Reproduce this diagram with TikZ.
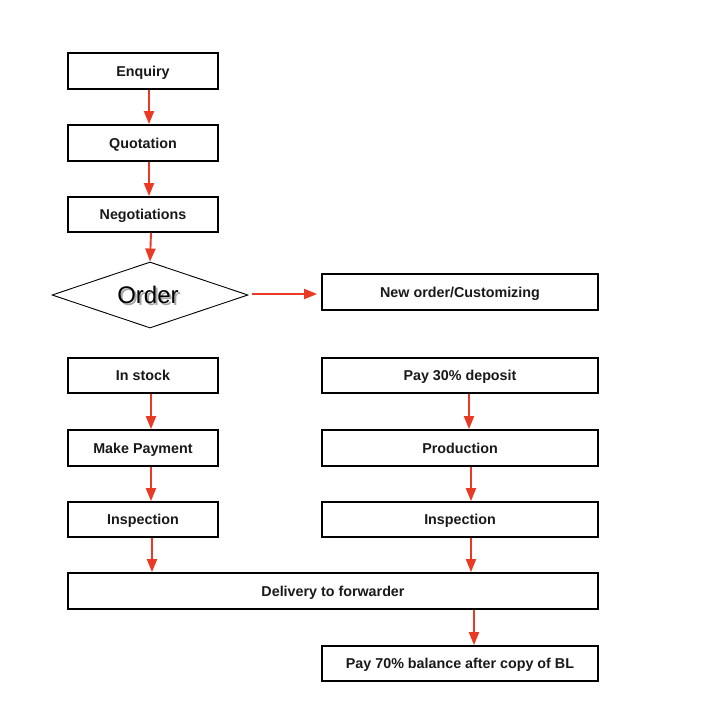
\documentclass[tikz,border=0pt]{standalone}
\usepackage{fontspec}
\setmainfont{Liberation Sans}
\usetikzlibrary{arrows.meta,shapes.geometric}
\definecolor{arrred}{RGB}{234,58,36}
\tikzset{
  box/.style={draw=black, line width=1.8pt, fill=white, inner sep=0pt, text height=10pt, text depth=0pt, font=\fontsize{14.3}{16}\selectfont\bfseries, text=black!90},
  arr/.style={draw=arrred, line width=1.9pt, -{Triangle[width=10pt,length=13pt]}},
}
\newcommand{\shadowtext}[1]{\rlap{\hspace{2pt}\raisebox{-2pt}{\textcolor{black!35}{#1}}}#1}
\begin{document}
\begin{tikzpicture}[x=1pt,y=-1pt]
\path[use as bounding box, fill=white] (0,0) rectangle (726,707);
% left column
\node[box, minimum width=150pt, minimum height=36pt] (enq) at (143,71) {Enquiry};
\node[box, minimum width=150pt, minimum height=36pt] (quo) at (143,143) {Quotation};
\node[box, minimum width=150pt, minimum height=35pt] (neg) at (143,214.5) {Negotiations};
\node[draw=black, line width=0.9pt, diamond, aspect=3, inner sep=0pt, minimum width=196pt, minimum height=66pt] (ord) at (150,295) {};
\node[text=black, font=\fontsize{24}{26}\selectfont, inner sep=0pt] (ordt) at (148,296) {\shadowtext{Order}};
\node[box, minimum width=150pt, minimum height=35pt] (stk) at (143,375.5) {In stock};
\node[box, minimum width=150pt, minimum height=36pt] (pay) at (143,448) {Make Payment};
\node[box, minimum width=150pt, minimum height=35pt] (insl) at (143,519.5) {Inspection};
% right column
\node[box, minimum width=276pt, minimum height=36pt] (new) at (460,292) {New order/Customizing};
\node[box, minimum width=276pt, minimum height=35pt] (dep) at (460,375.5) {Pay 30\% deposit};
\node[box, minimum width=276pt, minimum height=36pt] (pro) at (460,448) {Production};
\node[box, minimum width=276pt, minimum height=35pt] (insr) at (460,519.5) {Inspection};
% bottom
\node[box, minimum width=530pt, minimum height=36pt] (del) at (333,591) {Delivery to forwarder};
\node[box, minimum width=276pt, minimum height=35pt] (bal) at (460,663.5) {Pay 70\% balance after copy of BL};
% arrows
\draw[arr] ([xshift=6pt]enq.south) -- ([xshift=6pt]quo.north);
\draw[arr] ([xshift=6pt]quo.south) -- ([xshift=6pt]neg.north);
\draw[arr] ([xshift=8pt]neg.south) -- (ord.north);
\coordinate (oe) at ([xshift=4pt,yshift=1pt]ord.east);
\draw[arr] (oe) -- ([xshift=-4pt]new.west |- oe);
\draw[arr] ([xshift=8pt]stk.south) -- ([xshift=8pt]pay.north);
\draw[arr] ([xshift=8pt]pay.south) -- ([xshift=8pt]insl.north);
\draw[arr] ([xshift=9pt]insl.south) -- ([xshift=9pt]insl.south |- del.north);
\draw[arr] ([xshift=9pt]dep.south) -- ([xshift=9pt]pro.north);
\draw[arr] ([xshift=11pt]pro.south) -- ([xshift=11pt]insr.north);
\draw[arr] ([xshift=11pt]insr.south) -- ([xshift=11pt]insr.south |- del.north);
\draw[arr] ([xshift=14pt]insr.south |- del.south) -- ([xshift=14pt]bal.north);
\end{tikzpicture}
\end{document}
